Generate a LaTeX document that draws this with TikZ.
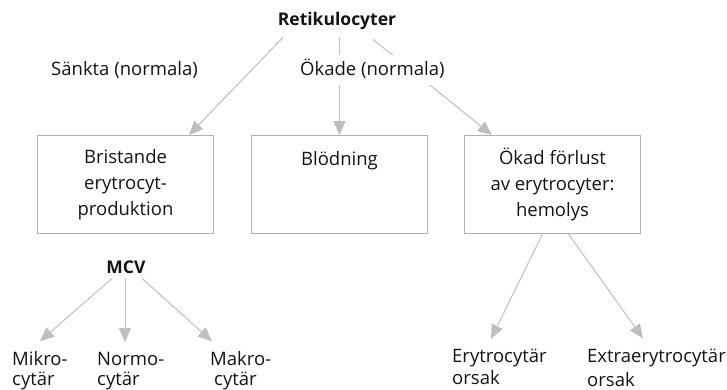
\documentclass[tikz,border=0pt]{standalone}
\usepackage{fontspec}
\setmainfont{Open Sans}
\usetikzlibrary{arrows.meta,calc}
\definecolor{boxgray}{RGB}{178,178,178}
\definecolor{arrgray}{RGB}{190,190,194}
\definecolor{ink}{RGB}{20,20,20}
\begin{document}
\begin{tikzpicture}[x=1pt,y=-1pt,
  txt/.style={inner sep=0pt, text=ink, font=\fontsize{18.5}{25.5}\selectfont},
  boldtxt/.style={inner sep=0pt, text=ink, font=\fontsize{17.5}{25.5}\selectfont\bfseries},
  two/.style={inner sep=0pt, text=ink, align=left, anchor=base west, font=\fontsize{18.5}{#1}\selectfont},
  box/.style={draw=boxgray, line width=1pt, minimum width=176pt, minimum height=98pt,
    anchor=north west, align=center, inner sep=0pt, text=ink, font=\fontsize{18.5}{26}\selectfont},
  arr/.style={draw=arrgray, line width=1pt, -{Triangle[length=14pt,width=12pt]}},
]
\useasboundingbox (0,0) rectangle (727,389);

\node[boldtxt, anchor=base] (reti) at (337,25) {Retikulocyter};
\node[txt, anchor=base west] (sank) at (51,75) {Sänkta (normala)};

\node[box] (b1) at (37,135) {Bristande\\erytrocyt-\\produktion};
\node[box] (b2) at (251,135) {Blödning\\\mbox{}\\\mbox{}};
\node[box] (b3) at (464,135) {Ökad förlust\\av erytrocyter:\\hemolys};

\node[boldtxt, anchor=base] (mcv) at (126,273) {MCV};
\node[two=19.5] (mik) at (12,385) {Mikro-\\cytär};
\node[two=19.5] (nor) at (97,385) {Normo-\\cytär};
\node[two=19.5] (mak) at (210,385) {Makro-\\\hspace{4pt}cytär};
\node[two=22] (ery) at (452,384.5) {Erytrocytär\\orsak};
\node[two=24] (ext) at (587,386) {Extraerytrocytär\\orsak};

\draw[arr] ($(reti.south)+(-54,8)$) -- ($(b1.north east)+(-25,0)$);
\draw[arr] ($(reti.south -| b2.north)+(0,8)$) -- (b2.north);
\draw[arr] ($(reti.south)+(36,10)$) -- ($(b3.north west)+(28,0)$);

\node[txt, anchor=base west, fill=white, text height=20pt, text depth=10pt] (okade) at (300,75) {Ökade (normala)};

\draw[arr] ($(mcv.south)+(-14,5)$) -- ($(mik.north west)+(28,-10)$);
\draw[arr] ($(mcv.south -| nor.north west)+(28,5)$) -- ($(nor.north west)+(28,-10)$);
\draw[arr] ($(mcv.south)+(16,5)$) -- ($(mak.north west)+(2,-10)$);

\draw[arr] ($(b3.south)+(-10,0)$) -- ($(ery.north west)+(39,-10)$);
\draw[arr] ($(b3.south)+(16,0)$) -- ($(ext.north west)+(56,-10)$);
\end{tikzpicture}
\end{document}
